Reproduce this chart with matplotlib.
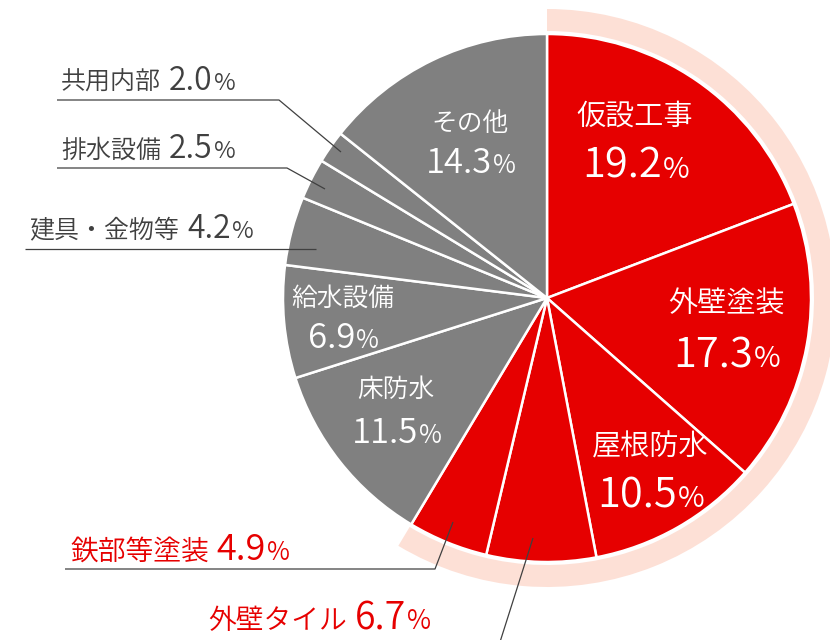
import numpy as np
import matplotlib.pyplot as plt
from matplotlib.patches import Wedge

plt.rcParams['font.family'] = ['Noto Sans CJK JP', 'DejaVu Sans']
plt.rcParams['font.weight'] = 350

names = ['仮設工事', '外壁塗装', '屋根防水', '外壁タイル', '鉄部等塗装',
         '床防水', '給水設備', '建具・金物等', '排水設備', '共用内部', 'その他']
shares = [19.2, 17.3, 10.5, 6.7, 4.9, 11.5, 6.9, 4.2, 2.5, 2.0, 14.3]
n_red = 5

RED = '#e60000'
GRAY = '#808080'
PINK = '#fde0d6'
DARK = '#404040'
W, H = 830, 640

def Y(y):
    return H - y

fig = plt.figure(figsize=(8.3, 6.4), dpi=100)
ax = fig.add_axes([0, 0, 1, 1])

cx, cy, r = 547, Y(298), 264
colors = [RED] * n_red + [GRAY] * (len(shares) - n_red)
ax.pie(shares, colors=colors, startangle=90, counterclock=False,
       center=(cx, cy), radius=r, frame=True,
       wedgeprops=dict(edgecolor='white', linewidth=1.8))
ax.set_xlim(0, W)
ax.set_ylim(0, H)
ax.set_aspect('equal')
ax.axis('off')

red_frac = sum(shares[:n_red]) / sum(shares)
ring = Wedge((cx, cy), 289, 90 - 360 * red_frac, 90, width=22,
             facecolor=PINK, edgecolor='none')
ax.add_patch(ring)

rend = fig.canvas.get_renderer()

def value_text(x, y, value, color, size, pct_size, ha='left'):
    t = ax.text(x, y, f'{value:.1f}', fontsize=size, color=color,
                ha='left', va='baseline')
    p = ax.text(x, y, '%', fontsize=pct_size, color=color,
                ha='left', va='baseline')
    w1 = t.get_window_extent(rend).width
    w2 = p.get_window_extent(rend).width
    x0 = x - (w1 + w2) / 2 if ha == 'center' else x
    t.set_x(x0)
    p.set_x(x0 + w1 + 1)

# labels inside the pie: (index, x, name y, number baseline, big)
inside = [(0, 635, 117, 178, True), (1, 726, 304, 367, True),
          (2, 650, 447, 507, True), (10, 470, 124, 173, False),
          (6, 343, 299, 348, False), (5, 396, 390, 443, False)]
for i, x, yn, yb, big in inside:
    ax.text(x, Y(yn), names[i], fontsize=21 if big else 18.5, color='white',
            ha='center', va='center')
    if big:
        value_text(x, Y(yb), shares[i], 'white', 30, 21, ha='center')
    else:
        value_text(x, Y(yb), shares[i], 'white', 25, 18, ha='center')

# labels outside: (index, x, baseline, color, sizes, leader line points)
outside = [
    (9, 61, 90, DARK, (18, 23, 17), [(57, 100), (279, 100), (341, 152)]),
    (8, 61, 158, DARK, (18, 23, 17), [(57, 168), (287, 168), (325, 189)]),
    (7, 29, 238, DARK, (18, 23, 17), [(25, 249), (316, 249)]),
    (4, 70, 560, RED, (20, 26, 18), [(65, 569), (435, 569), (453, 522)]),
    (3, 208, 629, RED, (20, 27, 19), [(500, 642), (533, 538)]),
]
for i, x, yb, col, (s1, s2, s3), pts in outside:
    t = ax.text(x, Y(yb), names[i], fontsize=s1, color=col,
                ha='left', va='baseline')
    w = t.get_window_extent(rend).width
    value_text(x + w + 8, Y(yb), shares[i], col, s2, s3)
    xs = [p[0] for p in pts]
    ys = [Y(p[1]) for p in pts]
    ax.plot(xs, ys, color=DARK, linewidth=0.9, solid_capstyle='butt')

fig.savefig('out.png', dpi=100)
